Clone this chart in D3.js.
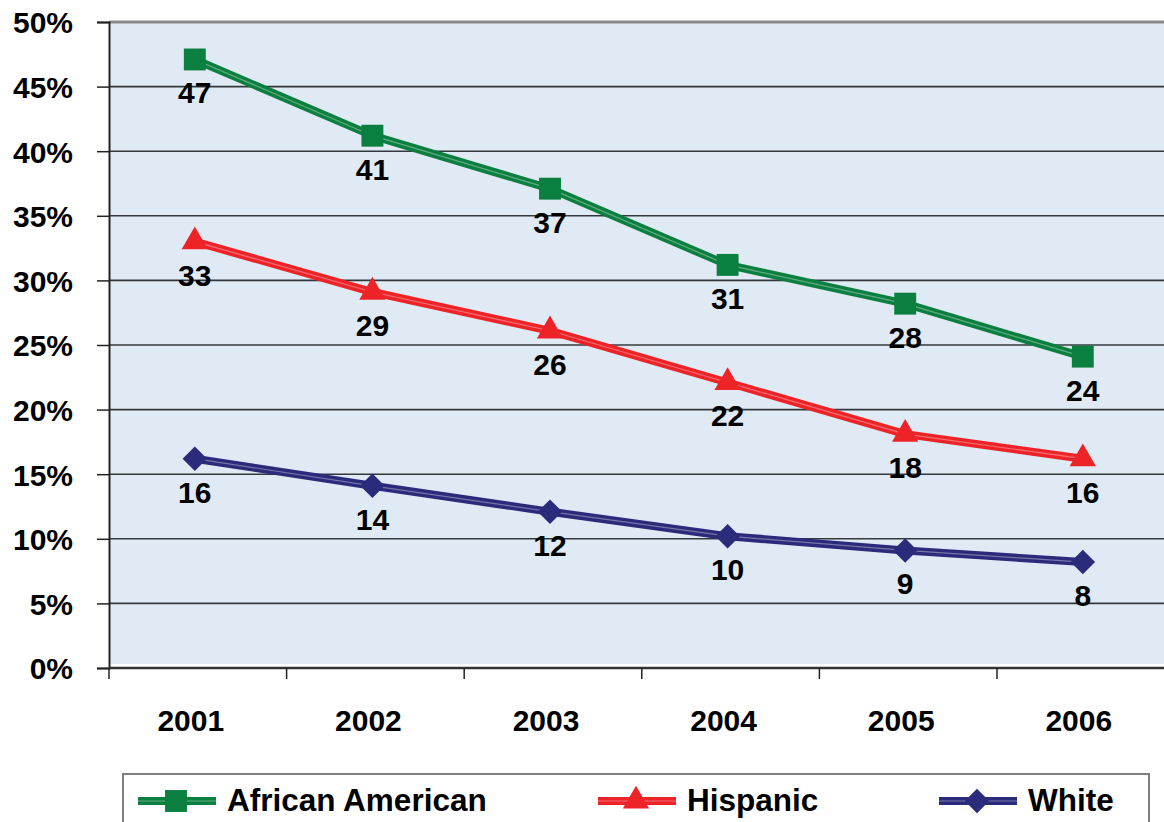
<!DOCTYPE html>
<html>
<head>
<meta charset="utf-8">
<script src="https://cdn.jsdelivr.net/npm/d3@7"></script>
<style>
  body { margin: 0; background: #fff; }
  svg text { font-family: "Liberation Sans", Arial, sans-serif; font-weight: bold; fill: #000; }
</style>
</head>
<body>
<svg id="chart" width="1164" height="822"></svg>
<script>
// datos
var years = ["2001", "2002", "2003", "2004", "2005", "2006"];
var african = [47.1, 41.2, 37.1, 31.2, 28.2, 24.1];
var hispanic = [33.0, 29.1, 26.1, 22.1, 18.1, 16.2];
var white = [16.2, 14.1, 12.1, 10.2, 9.1, 8.2];
var yTicks = [0, 5, 10, 15, 20, 25, 30, 35, 40, 45, 50];

var series = [
  { name: "African American", values: african, color: "#0b7f3f", symbol: d3.symbolSquare, size: 480, rot: 0, lx: 138 },
  { name: "Hispanic", values: hispanic, color: "#ee2328", symbol: d3.symbolTriangle, size: 300, rot: 0, lx: 598 },
  { name: "White", values: white, color: "#2b2b7b", symbol: d3.symbolSquare, size: 300, rot: 45, lx: 939 }
];

var svg = d3.select("#chart");
var pLeft = 109, pTop = 22, pBottom = 668, band = 177.6;

var x = d3.scaleBand().domain(years).range([pLeft, pLeft + band * years.length]);
var y = d3.scaleLinear().domain([0, 50]).range([pBottom, pTop]);

function px(i){ return x(years[i]) + x.bandwidth() / 2 - 3; }

// fondo
svg.append("rect")
  .attr("x", pLeft).attr("y", pTop)
  .attr("width", 1164 - pLeft).attr("height", pBottom - pTop - 4)
  .attr("fill", "#e0eaf4");

// lineas de rejilla
svg.selectAll("line.grid")
  .data(yTicks.filter(function(d){ return d > 0 && d < 50; }))
  .enter().append("line")
  .attr("class", "grid")
  .attr("x1", pLeft).attr("x2", 1164)
  .attr("y1", function(d){ return y(d); }).attr("y2", function(d){ return y(d); })
  .attr("stroke", "#33383e").attr("stroke-width", 1.6);

svg.append("line")
  .attr("x1", pLeft).attr("x2", 1164)
  .attr("y1", y(50)).attr("y2", y(50))
  .attr("stroke", "#8a8a8a").attr("stroke-width", 3);

// eje Y
var yAxis = d3.axisLeft(y).tickValues(yTicks)
  .tickFormat(function(d){ return d + "%"; })
  .tickSize(12).tickPadding(24);
var gy = svg.append("g").attr("transform", "translate(" + pLeft + ",0)").call(yAxis);
gy.select(".domain").attr("stroke", "#222").attr("stroke-width", 2);
gy.selectAll(".tick line").attr("stroke", "#222").attr("stroke-width", 1.5);
gy.selectAll(".tick text").style("font-size", "30px").attr("dy", "0.36em");

// eje X
svg.append("line")
  .attr("x1", pLeft).attr("x2", 1164)
  .attr("y1", pBottom).attr("y2", pBottom)
  .attr("stroke", "#333").attr("stroke-width", 2.5);

var xAxis = d3.axisBottom(x).tickSize(0).tickPadding(0);
var gx = svg.append("g").attr("transform", "translate(-7," + pBottom + ")").call(xAxis);
gx.select(".domain").remove();
gx.selectAll(".tick text").style("font-size", "30px").attr("y", 63).attr("dy", 0);

svg.selectAll("line.xtick")
  .data(years)
  .enter().append("line")
  .attr("class", "xtick")
  .attr("x1", function(d){ return x(d); }).attr("x2", function(d){ return x(d); })
  .attr("y1", pBottom).attr("y2", pBottom + 11)
  .attr("stroke", "#222").attr("stroke-width", 1.5);

// series
var line = d3.line()
  .x(function(d, i){ return px(i); })
  .y(function(d){ return y(d); });

series.forEach(function(s){
  var g = svg.append("g");
  g.append("path").datum(s.values)
    .attr("d", line).attr("fill", "none")
    .attr("stroke", s.color).attr("stroke-width", 8).attr("stroke-linejoin", "round");
  g.append("path").datum(s.values)
    .attr("d", line).attr("fill", "none")
    .attr("stroke", "#fff").attr("stroke-opacity", 0.35).attr("stroke-width", 1.2);
  g.selectAll("path.mk").data(s.values).enter().append("path")
    .attr("class", "mk")
    .attr("d", d3.symbol().type(s.symbol).size(s.size))
    .attr("transform", function(d, i){ return "translate(" + px(i) + "," + y(d) + ") rotate(" + s.rot + ")"; })
    .attr("fill", s.color);
  g.selectAll("text").data(s.values).enter().append("text")
    .attr("x", function(d, i){ return px(i); })
    .attr("y", function(d){ return y(d) + 44; })
    .attr("text-anchor", "middle")
    .style("font-size", "30px")
    .text(function(d){ return Math.round(d); });
});

// leyenda
svg.append("rect")
  .attr("x", 123).attr("y", 774)
  .attr("width", 1026).attr("height", 70)
  .attr("fill", "#fff").attr("stroke", "#7f7f7f").attr("stroke-width", 2);

series.forEach(function(s){
  var g = svg.append("g");
  var ly = 801;
  g.append("line").attr("x1", s.lx).attr("x2", s.lx + 78).attr("y1", ly).attr("y2", ly)
    .attr("stroke", s.color).attr("stroke-width", 8);
  g.append("line").attr("x1", s.lx).attr("x2", s.lx + 78).attr("y1", ly).attr("y2", ly)
    .attr("stroke", "#fff").attr("stroke-opacity", 0.35).attr("stroke-width", 1.2);
  g.append("path")
    .attr("d", d3.symbol().type(s.symbol).size(s.size))
    .attr("transform", "translate(" + (s.lx + 38) + "," + ly + ") rotate(" + s.rot + ")")
    .attr("fill", s.color);
  g.append("text").attr("x", s.lx + 89).attr("y", 811)
    .style("font-size", "31.5px").text(s.name);
});
</script>
</body>
</html>
